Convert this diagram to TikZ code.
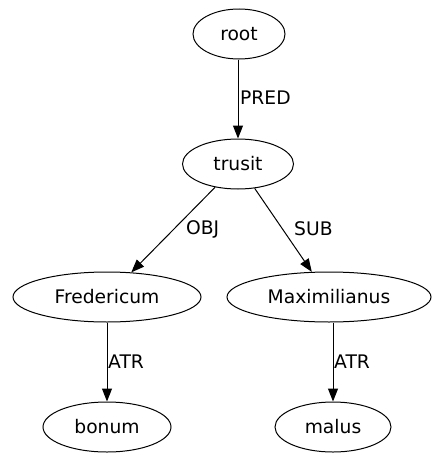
\documentclass[tikz,border=0pt]{standalone}
\usepackage{fontspec}
\setmainfont{DejaVu Sans}
\usetikzlibrary{shapes.geometric,arrows.meta}
\begin{document}
\begin{tikzpicture}[x=1pt,y=-1pt,
  nd/.style={draw, ellipse, line width=1pt, minimum height=50pt, inner sep=0pt, font=\fontsize{18.7}{22}\selectfont},
  lbl/.style={anchor=west, inner sep=0pt, font=\fontsize{18.7}{22}\selectfont},
  edge/.style={-{Triangle[length=13pt,width=10pt]}, line width=1pt}]
\useasboundingbox (0,0) rectangle (432,455);
\node[nd, minimum width=92pt]  (root)  at (239,34)  {root};
\node[nd, minimum width=111pt] (trusit) at (238,164) {trusit};
\node[nd, minimum width=188pt] (fred)  at (107,297) {Fredericum};
\node[nd, minimum width=204pt] (maxi)  at (329,297) {Maximilianus};
\node[nd, minimum width=128pt] (bonum) at (107,427) {bonum};
\node[nd, minimum width=116pt] (malus) at (333,427) {malus};
\draw[edge] (root.south -| trusit) -- (trusit);
\draw[edge] (trusit) -- (fred);
\draw[edge] (trusit) -- (maxi);
\draw[edge] (fred) -- (bonum);
\draw[edge] (maxi.south -| malus) -- (malus);
\node[lbl] (lpred) at (240,98)  {PRED};
\node[lbl] (lobj)  at (186,229) {OBJ};
\node[lbl] (lsub)  at (294,229) {SUB};
\node[lbl] (latr1) at (108,362) {ATR};
\node[lbl] (latr2) at (334,362) {ATR};
\end{tikzpicture}
\end{document}
